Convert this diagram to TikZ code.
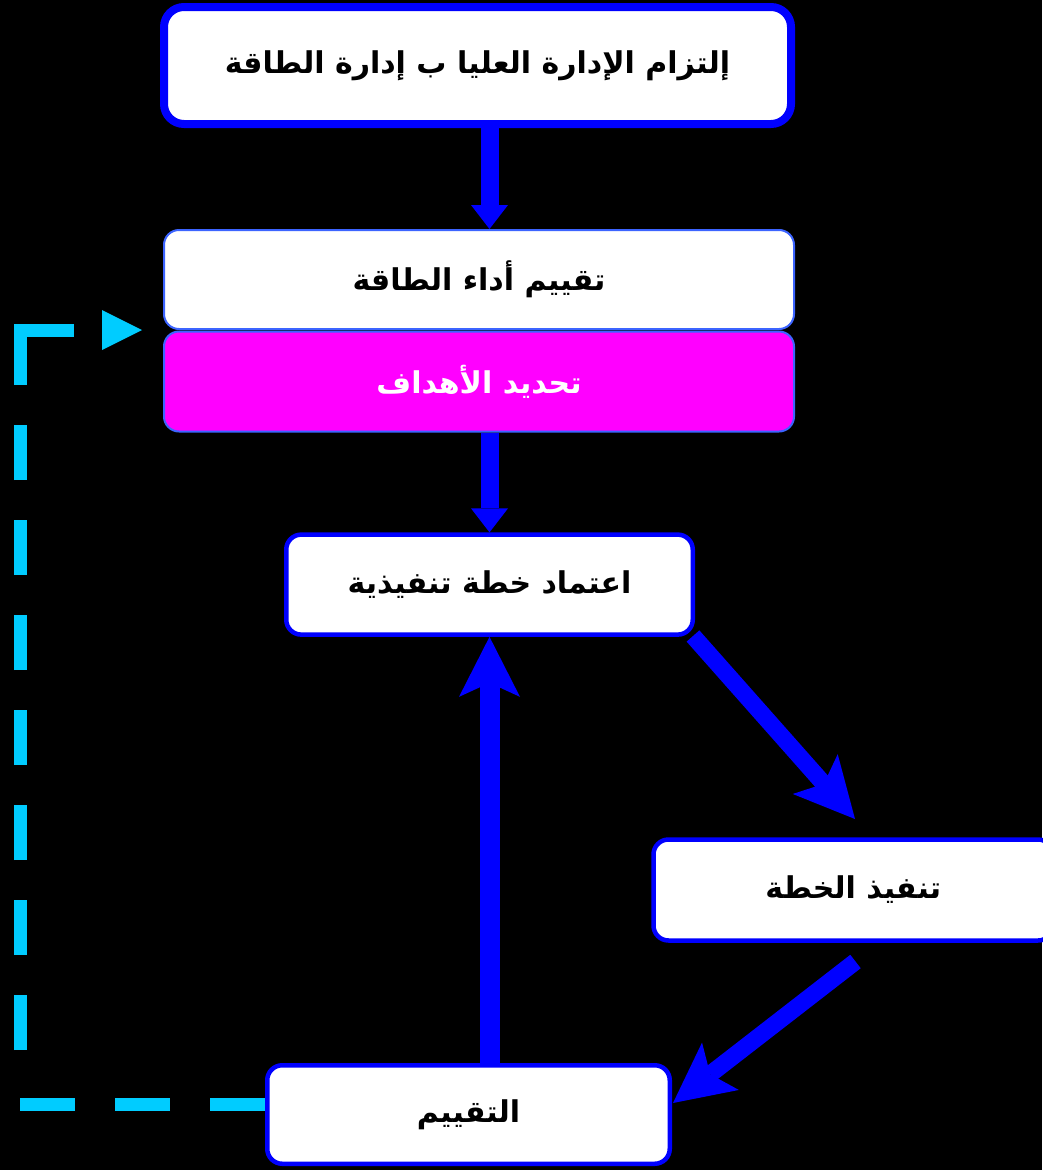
\documentclass[tikz,border=0pt]{standalone}
\usepackage{fontspec}
\usetikzlibrary{arrows.meta}
\newfontfamily\arabicfont[Script=Arabic]{DejaVu Sans}
\TeXXeTstate=1
\definecolor{pblue}{RGB}{0,0,255}
\definecolor{lblue}{RGB}{60,100,255}
\definecolor{dcyan}{RGB}{0,204,255}
\definecolor{pmag}{RGB}{255,0,255}
\newcommand\artxt[1]{{\arabicfont\bfseries\fontsize{30pt}{36pt}\selectfont\beginR #1\endR}}
\tikzset{
  box/.style={draw=pblue, fill=white, text=black, rounded corners=15pt, line width=4.5pt, inner sep=0pt},
  thinbox/.style={draw=lblue, line width=2pt, rounded corners=15pt, inner sep=0pt},
  flow/.style={draw=pblue, line width=18pt, line cap=butt, -{Triangle[length=24pt,width=37pt,line width=0pt]}},
  bigflow/.style={draw=pblue, line width=20pt, line cap=butt, -{Stealth[length=60pt,width=61pt,inset=14pt,line width=0pt]}},
  diagflow/.style={draw=pblue, line width=17pt, line cap=butt, -{Stealth[length=60pt,width=60pt,inset=13pt,line width=0pt]}},
  loopline/.style={draw=dcyan, line width=13pt, line cap=butt, line join=miter,
    dash pattern=on 55pt off 40pt on 55pt off 40pt on 55pt off 54pt on 55pt off 40pt on 55pt off 40pt on 55pt off 40pt on 55pt off 40pt on 55pt off 40pt on 55pt off 40pt on 55pt off 40pt on 109pt off 28pt,
    -{Triangle[length=40pt,width=40pt,line width=0pt]}}
}
\begin{document}
\begin{tikzpicture}[x=1pt,y=-1pt]
\useasboundingbox (0,0) rectangle (1042,1170);
\fill[black] (0,0) rectangle (1042,1170);

\node[box, line width=8pt, rounded corners=20pt, minimum width=627pt, minimum height=117pt] (b1) at (477.5,65.5) {\artxt{إلتزام الإدارة العليا ب إدارة الطاقة}};
\node[thinbox, fill=white, text=black, minimum width=630pt, minimum height=99pt] (b2) at (479,279.5) {\artxt{تقييم أداء الطاقة}};
\node[thinbox, fill=pmag, text=white, minimum width=630pt, minimum height=100pt] (b3) at (479,381.5) {\artxt{تحديد الأهداف}};
\node[box, minimum width=406.5pt, minimum height=100pt] (b4) at (489.5,584.6) {\artxt{اعتماد خطة تنفيذية}};
\node[box, minimum width=399.5pt, minimum height=101pt] (b5) at (853.25,890) {\artxt{تنفيذ الخطة}};
\node[box, minimum width=402.5pt, minimum height=98.5pt] (b6) at (468.5,1114.5) {\artxt{التقييم}};

\coordinate (a4s) at (693,636);
\coordinate (a4e) at (855,819);
\coordinate (a5s) at (855.5,961.5);
\coordinate (a5e) at (673,1103);
\coordinate (d0) at ([yshift=10.5pt]b6.west);
\coordinate (c1) at (20,1104);
\coordinate (c2) at (20,330);
\coordinate (d3) at (142,330);

\draw[flow] (b4.north |- b1.south) -- (b4.north |- b2.north);
\draw[flow] (b4.north |- b3.south) -- (b4.north);
\draw[bigflow] (b4.south |- b6.north) -- (b4.south);
\draw[diagflow] (a4s) -- (a4e);
\draw[diagflow] (a5s) -- (a5e);
\draw[loopline] (d0) -- (c1) -- (c2) -- (d3);
\end{tikzpicture}
\end{document}
